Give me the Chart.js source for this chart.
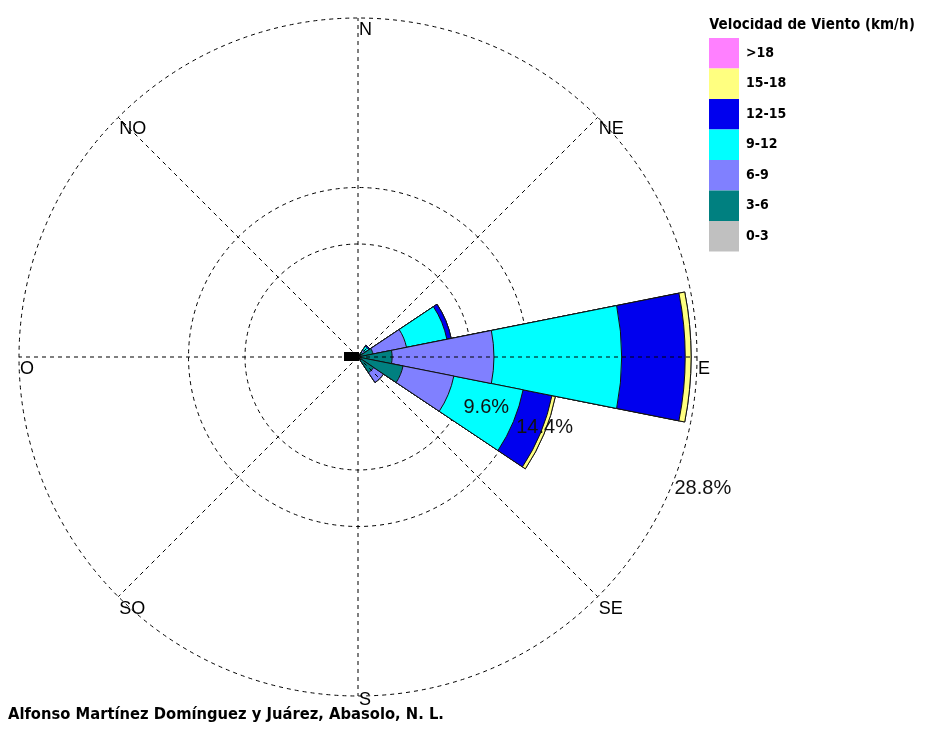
<!DOCTYPE html>
<html lang="es">
<head>
<meta charset="utf-8">
<title>Rosa de vientos - Abasolo, N. L.</title>
<script src="https://cdn.jsdelivr.net/npm/chart.js@4.4.1/dist/chart.umd.min.js"></script>
<style>
  body { margin: 0; background: #fff; }
  #wrap { width: 925px; height: 741px; }
</style>
</head>
<body>
<div id="wrap"><canvas id="rosa" width="925" height="741"></canvas></div>
<script>
// 16 rumbos, en sentido horario desde el norte
const direcciones = ['N', 'NNE', 'NE', 'ENE', 'E', 'ESE', 'SE', 'SSE', 'S', 'SSO', 'SO', 'OSO', 'O', 'ONO', 'NO', 'NNO'];

// frecuencia (%) de cada rango de velocidad por rumbo
const v0_3   = [0, 0, 0,   0.2,  0.3,  0.3, 0.2, 0, 0, 0, 0, 0, 0, 0, 0, 0];
const v3_6   = [0, 0, 0.5, 1.1,  2.6,  3.6, 1.4, 0, 0, 0, 0, 0, 0, 0, 0, 0];
const v6_9   = [0, 0, 0.2, 2.9,  8.65, 4.4, 1.0, 0, 0, 0, 0, 0, 0, 0, 0, 0];
const v9_12  = [0, 0, 0.4, 3.5, 10.85, 6.0, 0,   0, 0, 0, 0, 0, 0, 0, 0, 0];
const v12_15 = [0, 0, 0.1, 0.37, 5.4,  2.5, 0,   0, 0, 0, 0, 0, 0, 0, 0, 0];
const v15_18 = [0, 0, 0,   0,    0.5,  0.3, 0,   0, 0, 0, 0, 0, 0, 0, 0, 0];
const vMas18 = [0, 0, 0,   0,    0,    0,   0,   0, 0, 0, 0, 0, 0, 0, 0, 0];

const rangos = ['0-3', '3-6', '6-9', '9-12', '12-15', '15-18', '>18'];
const colores = ['#c0c0c0', '#008080', '#8080ff', '#00ffff', '#0000ee', '#ffff80', '#ff80ff'];
const frecuencias = [v0_3, v3_6, v6_9, v9_12, v12_15, v15_18, vMas18];

// circulos de referencia (%)
const circulos = [0, 9.6, 14.4, 28.8];
const puntos = ['N', 'NE', 'E', 'SE', 'S', 'SO', 'O', 'NO'];

const narrow = "'Liberation Sans Narrow', 'DejaVu Sans Condensed', 'Arial Narrow', sans-serif";
const normal = "'Liberation Sans', Arial, sans-serif";

// cada rango se dibuja como el acumulado hasta el, el menor queda encima
let acum = direcciones.map(() => 0);
const datasets = rangos.map((r, i) => {
    acum = acum.map((a, j) => a + frecuencias[i][j]);
    return {
        label: r,
        data: acum.slice(),
        backgroundColor: colores[i],
        borderColor: '#111',
        borderWidth: 1
    };
});

// la leyenda ocupa un ancho fijo a la derecha
const anchoLeyenda = {
    id: 'anchoLeyenda',
    beforeInit(chart) {
        const fitOriginal = chart.legend.fit;
        chart.legend.fit = function () {
            fitOriginal.call(this);
            this.width = 216;
        };
    }
};

const rosaDecor = {
    id: 'rosaDecor',
    afterDatasetsDraw(chart) {
        const r = chart.scales.r;
        const ctx = chart.ctx;
        const cx = r.xCenter, cy = r.yCenter, R = r.drawingArea;
        ctx.save();

        // marca de calma en el centro
        ctx.fillStyle = '#000';
        ctx.fillRect(cx - 14, cy - 5, 15, 9);

        // lineas de rumbo
        ctx.strokeStyle = '#000';
        ctx.lineWidth = 1;
        ctx.setLineDash([4, 4]);
        puntos.forEach((p, i) => {
            const a = (i * 45 - 90) * Math.PI / 180;
            ctx.beginPath();
            ctx.moveTo(cx, cy);
            ctx.lineTo(cx + R * Math.cos(a), cy + R * Math.sin(a));
            ctx.stroke();
        });
        ctx.setLineDash([]);

        ctx.fillStyle = '#000';
        ctx.textAlign = 'left';
        ctx.textBaseline = 'top';
        ctx.font = '18px ' + normal;
        puntos.forEach((p, i) => {
            const a = (i * 45 - 90) * Math.PI / 180;
            // la S va un poco arriba para no pisar el pie
            const dy = p === 'S' ? -5 : 3;
            ctx.fillText(p, cx + R * Math.cos(a) + 1, cy + R * Math.sin(a) + dy);
        });

        // etiquetas de los circulos
        ctx.font = '20px ' + normal;
        ctx.fillStyle = '#111';
        const ang = 21 * Math.PI / 180;
        circulos.slice(1).forEach(v => {
            const d = r.getDistanceFromCenterForValue(v);
            ctx.fillText(v.toFixed(1) + '%', cx + d * Math.cos(ang), cy + d * Math.sin(ang));
        });

        ctx.font = 'bold 16.4px ' + narrow;
        ctx.fillStyle = '#000';
        ctx.fillText('Alfonso Martínez Domínguez y Juárez, Abasolo, N. L.', 8, 707);
        ctx.restore();
    }
};

new Chart(document.getElementById('rosa'), {
    type: 'polarArea',
    data: {
        labels: direcciones,
        datasets: datasets
    },
    options: {
        responsive: false,
        animation: false,
        layout: { padding: { left: 7, top: 18, bottom: 45, right: 0 } },
        scales: {
            r: {
                min: 0,
                max: 28.8,
                startAngle: -11.25,
                z: 1,
                afterBuildTicks: (scale) => {
                    scale.ticks = circulos.map(v => ({ value: v }));
                },
                ticks: { display: false },
                grid: { color: '#000', lineWidth: 1, circular: true },
                border: { dash: [4, 4] },
                angleLines: { display: false },
                pointLabels: { display: false }
            }
        },
        plugins: {
            tooltip: { enabled: false },
            legend: {
                position: 'right',
                align: 'start',
                reverse: true,
                title: {
                    display: true,
                    text: 'Velocidad de Viento (km/h)',
                    position: 'start',
                    color: '#000',
                    padding: { top: 0, bottom: 2 },
                    font: { family: narrow, size: 15, weight: 'bold' }
                },
                labels: {
                    boxWidth: 30,
                    boxHeight: 30.5,
                    padding: 0,
                    color: '#000',
                    font: { family: narrow, size: 14, weight: 'bold' },
                    generateLabels: (chart) => chart.data.datasets.map((ds, i) => ({
                        text: ds.label,
                        fillStyle: ds.backgroundColor,
                        strokeStyle: ds.backgroundColor,
                        lineWidth: 0,
                        fontColor: '#000',
                        hidden: false,
                        datasetIndex: i
                    }))
                }
            }
        }
    },
    plugins: [anchoLeyenda, rosaDecor]
});
</script>
</body>
</html>
